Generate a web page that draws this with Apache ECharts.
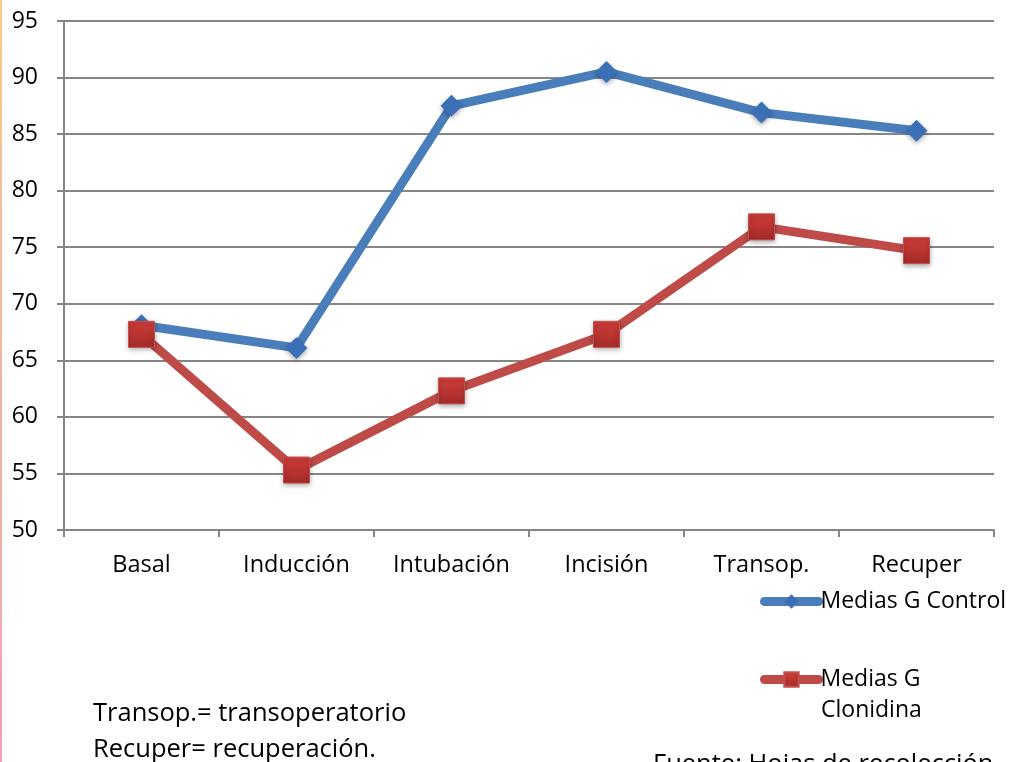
<!DOCTYPE html>
<html>
<head>
<meta charset="utf-8">
<script src="https://cdn.jsdelivr.net/npm/echarts@6/dist/echarts.min.js"></script>
<style>
    html, body { margin: 0; padding: 0; background: #fff; }
    #chart { width: 1013px; height: 762px; }
    #edge { position: absolute; left: 0; top: 0; width: 2px; height: 762px;
            background: linear-gradient(#f7c98c, #e9a3b4); }
</style>
</head>
<body>
<div id="edge"></div>
<div id="chart"></div>
<script>
// Data
var categories = ['Basal', 'Inducción', 'Intubación', 'Incisión', 'Transop.', 'Recuper'];
var control = [68.1, 66.1, 87.5, 90.5, 86.9, 85.3];
var clonidina = [67.3, 55.3, 62.3, 67.3, 76.8, 74.7];
var yTicks = [50, 95, 5]; // min, max, interval

var font = '"Open Sans", sans-serif';

function init_chart() {
    var myChart = echarts.init(document.getElementById('chart'));

    option = {
        animation: false,
        textStyle: {fontFamily: font},
        grid: {left: 64, right: 19, top: 21, bottom: 232},
        xAxis: {
            type: 'category',
            data: categories,
            boundaryGap: true,
            axisLine: {lineStyle: {color: '#868686', width: 2}},
            axisTick: {show: true, length: 7, lineStyle: {color: '#868686', width: 2}},
            axisLabel: {color: '#000', fontSize: 23.5, fontFamily: font, margin: 23}
        },
        yAxis: {
            type: 'value',
            min: yTicks[0],
            max: yTicks[1],
            interval: yTicks[2],
            axisLine: {show: true, lineStyle: {color: '#868686', width: 2}},
            axisTick: {show: true, length: 7, lineStyle: {color: '#868686', width: 2}},
            splitLine: {lineStyle: {color: '#868686', width: 2}},
            axisLabel: {color: '#000', fontSize: 23, fontFamily: font, margin: 26}
        },
        legend: [
            {
                data: ['Medias G Control'],
                left: 760, top: 590, padding: 0,
                itemWidth: 54, itemHeight: 18, itemGap: 0,
                lineStyle: {width: 9, cap: 'round'},
                textStyle: {color: '#000', fontSize: 23, fontFamily: font, padding: [0, 0, 0, -3]}
            },
            {
                data: ['Medias G Clonidina'],
                left: 760, top: 668, padding: 0,
                itemWidth: 54, itemHeight: 18,
                lineStyle: {width: 9, cap: 'round'},
                formatter: function() { return 'Medias G'; },
                textStyle: {color: '#000', fontSize: 23, fontFamily: font, padding: [0, 0, 0, -3]}
            }
        ],
        graphic: [
            {type: 'text', left: 821, top: 699, style: {text: 'Clonidina', fontSize: 23, fontFamily: font, fill: '#000'}},
            {type: 'text', left: 93, top: 701, style: {text: 'Transop.= transoperatorio', fontSize: 25.5, fontFamily: font, fill: '#000'}},
            {type: 'text', left: 93, top: 737, style: {text: 'Recuper= recuperación.', fontSize: 25.5, fontFamily: font, fill: '#000'}},
            {type: 'text', left: 653, top: 752, style: {text: 'Fuente: Hojas de recolección', fontSize: 25.5, fontFamily: font, fill: '#000'}}
        ],
        series: [
            {
                name: 'Medias G Control',
                type: 'line',
                data: control,
                symbol: 'diamond',
                symbolSize: 22,
                lineStyle: {color: '#4a7ebb', width: 9},
                itemStyle: {color: '#3b6fb6', shadowBlur: 5, shadowColor: 'rgba(0,0,0,0.35)', shadowOffsetY: 2},
                z: 3
            },
            {
                name: 'Medias G Clonidina',
                type: 'line',
                data: clonidina,
                symbol: 'rect',
                symbolSize: 26,
                lineStyle: {color: '#be4b48', width: 9},
                itemStyle: {
                    color: new echarts.graphic.LinearGradient(0, 0, 0, 1, [
                        {offset: 0, color: '#cf3d39'},
                        {offset: 1, color: '#a42b28'}
                    ]),
                    borderColor: '#c0504d', borderWidth: 1,
                    shadowBlur: 5, shadowColor: 'rgba(0,0,0,0.35)', shadowOffsetY: 2
                },
                z: 4
            }
        ]
    };
    myChart.setOption(option);
}

init_chart();
</script>
</body>
</html>
